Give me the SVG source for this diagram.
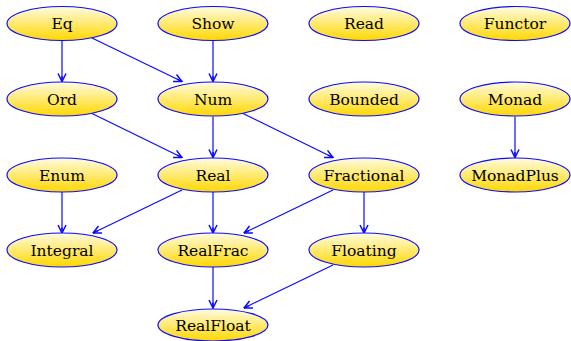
<svg xmlns="http://www.w3.org/2000/svg" width="571" height="341" viewBox="0 0 571 341">
  <defs>
    <linearGradient id="fill" x1="0" y1="0" x2="0" y2="1">
      <stop offset="0" stop-color="#fffbe0"/>
      <stop offset="0.55" stop-color="#ffe866"/>
      <stop offset="1" stop-color="#ffd700"/>
    </linearGradient>
    <marker id="arrow" viewBox="0 0 10 10" refX="9.5" refY="5" markerWidth="10" markerHeight="10" markerUnits="userSpaceOnUse" orient="auto">
      <path d="M1.5,1 L9.5,5 L1.5,9" fill="none" stroke="#0a0aff" stroke-width="1.5" stroke-linejoin="miter"/>
      <path d="M9.5,5 L4,5" stroke="#0a0aff" stroke-width="1.5"/>
    </marker>
    <style>
      .node ellipse { fill: url(#fill); stroke: #0a0aff; stroke-width: 1.2; }
      .node text { font-family: "DejaVu Serif", "Liberation Serif", serif; font-size: 15.5px; fill: #000; text-anchor: middle; }
      #edges line { stroke: #0a0aff; stroke-width: 1.2; marker-end: url(#arrow); }
    </style>
  </defs>

  <g id="edges">
    <line x1="62" y1="40.5" x2="62" y2="81.5"/>
    <line x1="92" y1="38" x2="182" y2="81.5"/>
    <line x1="213" y1="40.5" x2="213" y2="81.5"/>
    <line x1="92" y1="113.5" x2="182" y2="157.5"/>
    <line x1="213" y1="116.5" x2="213" y2="157.5"/>
    <line x1="243" y1="113.5" x2="333" y2="157.5"/>
    <line x1="515" y1="116.5" x2="515" y2="157.5"/>
    <line x1="62" y1="192" x2="62" y2="233"/>
    <line x1="182" y1="190" x2="93" y2="233"/>
    <line x1="213" y1="192" x2="213" y2="233"/>
    <line x1="333" y1="190" x2="244" y2="233"/>
    <line x1="364" y1="192" x2="364" y2="233"/>
    <line x1="213" y1="267" x2="213" y2="308"/>
    <line x1="333" y1="265" x2="244" y2="308"/>
  </g>

  <g id="Eq" class="node"><ellipse cx="62" cy="23.5" rx="55" ry="17"/><text x="62" y="29">Eq</text></g>
  <g id="Show" class="node"><ellipse cx="213" cy="23.5" rx="55" ry="17"/><text x="213" y="29">Show</text></g>
  <g id="Read" class="node"><ellipse cx="364" cy="23.5" rx="55" ry="17"/><text x="364" y="29">Read</text></g>
  <g id="Functor" class="node"><ellipse cx="515" cy="23.5" rx="55" ry="17"/><text x="515" y="29">Functor</text></g>

  <g id="Ord" class="node"><ellipse cx="62" cy="99" rx="55" ry="17"/><text x="62" y="104.5">Ord</text></g>
  <g id="Num" class="node"><ellipse cx="213" cy="99" rx="55" ry="17"/><text x="213" y="104.5">Num</text></g>
  <g id="Bounded" class="node"><ellipse cx="364" cy="99" rx="55" ry="17"/><text x="364" y="104.5">Bounded</text></g>
  <g id="Monad" class="node"><ellipse cx="515" cy="99" rx="55" ry="17"/><text x="515" y="104.5">Monad</text></g>

  <g id="Enum" class="node"><ellipse cx="62" cy="175" rx="55" ry="17"/><text x="62" y="180.5">Enum</text></g>
  <g id="Real" class="node"><ellipse cx="213" cy="175" rx="55" ry="17"/><text x="213" y="180.5">Real</text></g>
  <g id="Fractional" class="node"><ellipse cx="364" cy="175" rx="55" ry="17"/><text x="364" y="180.5">Fractional</text></g>
  <g id="MonadPlus" class="node"><ellipse cx="515" cy="175" rx="55" ry="17"/><text x="515" y="180.5">MonadPlus</text></g>

  <g id="Integral" class="node"><ellipse cx="62" cy="250" rx="55" ry="17"/><text x="62" y="255.5">Integral</text></g>
  <g id="RealFrac" class="node"><ellipse cx="213" cy="250" rx="55" ry="17"/><text x="213" y="255.5">RealFrac</text></g>
  <g id="Floating" class="node"><ellipse cx="364" cy="250" rx="55" ry="17"/><text x="364" y="255.5">Floating</text></g>

  <g id="RealFloat" class="node"><ellipse cx="213" cy="325" rx="55" ry="16"/><text x="213" y="330.5">RealFloat</text></g>
</svg>
